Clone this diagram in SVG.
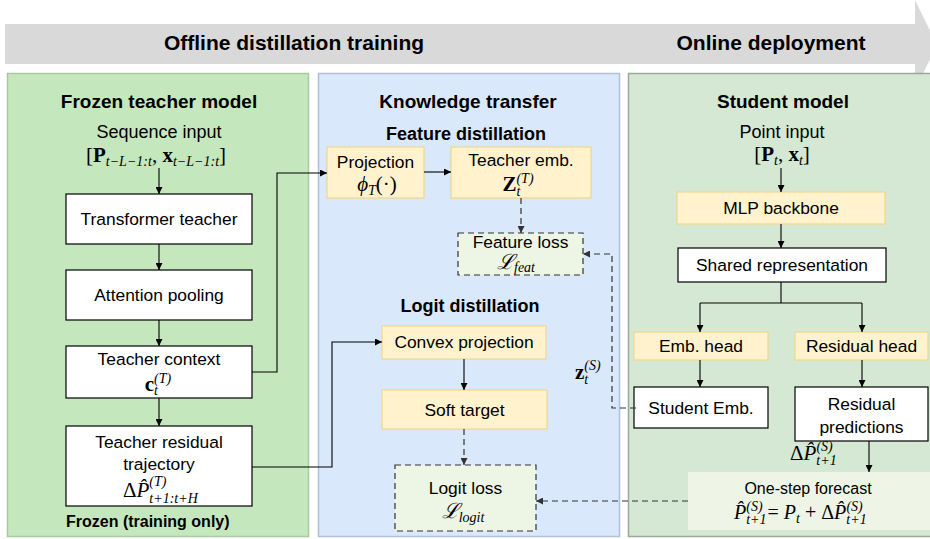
<svg xmlns="http://www.w3.org/2000/svg" width="930" height="539" viewBox="0 0 930 539">
  <style>
    .t { font-family: "Liberation Sans", Arial, sans-serif; font-size: 17.4px; fill: #000; text-anchor: middle; }
    .h { font-family: "Liberation Sans", Arial, sans-serif; font-size: 19px; font-weight: bold; fill: #000; text-anchor: middle; }
    .h2 { font-family: "Liberation Sans", Arial, sans-serif; font-size: 18px; font-weight: bold; fill: #000; text-anchor: middle; }
    .phase { font-family: "Liberation Sans", Arial, sans-serif; font-size: 21px; font-weight: bold; fill: #000; text-anchor: middle; }
    .m { font-family: "Liberation Serif", "DejaVu Serif", serif; font-size: 21px; fill: #000; }
    .b { font-weight: bold; font-style: normal; }
    .i { font-style: italic; }
    .s { font-size: 14px; font-style: italic; }
    .cal { font-family: "DejaVu Serif", serif; font-style: italic; }
    .box { fill: #fff; stroke: #000; stroke-width: 1.2; }
    .ybox { fill: #fff2cc; stroke: #f2d68a; stroke-width: 1.2; }
    .lbox { fill: #edf5e5; stroke: #333; stroke-width: 1.2; stroke-dasharray: 6 4; }
    .ln { fill: none; stroke: #000; stroke-width: 1.1; }
    .dl { fill: none; stroke: #333; stroke-width: 1.2; stroke-dasharray: 6 4; }
  </style>
  <defs>
    <marker id="ah" viewBox="0 0 10 10" refX="10" refY="5" markerWidth="7" markerHeight="7" markerUnits="userSpaceOnUse" orient="auto">
      <path d="M0,0 L10,5 L0,10 z" fill="#000"/>
    </marker>
    <marker id="ahd" viewBox="0 0 10 10" refX="10" refY="5" markerWidth="7" markerHeight="7" markerUnits="userSpaceOnUse" orient="auto">
      <path d="M0,0 L10,5 L0,10 z" fill="#333"/>
    </marker>
  </defs>

  <!-- phase banner -->
  <g id="banner">
    <polygon points="5,24 915,24 915,0 937,45 915,90 915,64 5,64" fill="#d9d9d9"/>
    <text class="phase" x="294" y="50">Offline distillation training</text>
    <text class="phase" x="771" y="50">Online deployment</text>
  </g>

  <!-- panels -->
  <g id="teacher-panel">
    <rect x="7.5" y="73.5" width="301" height="463" fill="#c5e7bd" stroke="#a9c9a1" stroke-width="1.5"/>
    <text class="h" x="159" y="108">Frozen teacher model</text>
    <text class="t" x="159" y="138" style="font-size:18px">Sequence input</text>
    <text class="m" x="156" y="162" text-anchor="middle">[<tspan class="b">P</tspan><tspan class="s" dy="4">t−L−1:t</tspan><tspan dy="-4">, </tspan><tspan class="b">x</tspan><tspan class="s" dy="4">t−L−1:t</tspan><tspan dy="-4">]</tspan></text>
    <text x="66" y="527" style="font-family:'Liberation Sans',Arial,sans-serif;font-size:16px;font-weight:bold">Frozen (training only)</text>
  </g>
  <g id="transfer-panel">
    <rect x="318.5" y="73.5" width="301" height="463" fill="#dae8fc" stroke="#b0c0d8" stroke-width="1.5"/>
    <text class="h" x="468" y="108">Knowledge transfer</text>
    <text class="h2" x="466" y="140">Feature distillation</text>
    <text class="h2" x="470" y="312">Logit distillation</text>
  </g>
  <g id="student-panel">
    <rect x="628.5" y="73.5" width="305" height="463" fill="#d5e8d4" stroke="#9aaa98" stroke-width="1.5"/>
    <text class="h" x="783" y="108">Student model</text>
    <text class="t" x="782" y="138" style="font-size:18px">Point input</text>
    <text class="m" x="782" y="161" text-anchor="middle">[<tspan class="b">P</tspan><tspan class="s" dy="4">t</tspan><tspan dy="-4">, </tspan><tspan class="b">x</tspan><tspan class="s" dy="4">t</tspan><tspan dy="-4">]</tspan></text>
  </g>

  <!-- teacher nodes -->
  <g id="transformer-teacher">
    <rect class="box" x="66" y="194" width="186" height="50"/>
    <text class="t" x="159" y="225">Transformer teacher</text>
  </g>
  <g id="attention-pooling">
    <rect class="box" x="66" y="270" width="186" height="50"/>
    <text class="t" x="159" y="301">Attention pooling</text>
  </g>
  <g id="teacher-context">
    <rect class="box" x="66" y="346" width="186" height="52"/>
    <text class="t" x="159" y="365">Teacher context</text>
    <text class="m" x="158" y="391" text-anchor="middle"><tspan class="b">c</tspan><tspan class="s" dy="4">t</tspan><tspan class="s" dx="-3.9" dy="-12">(T)</tspan></text>
  </g>
  <g id="teacher-residual">
    <rect class="box" x="66" y="426" width="186" height="80"/>
    <text class="t" x="159" y="448">Teacher residual</text>
    <text class="t" x="159" y="470">trajectory</text>
    <text class="m" x="123" y="497">Δ<tspan class="i">P̂</tspan><tspan class="s" dy="6">t+1:t+H</tspan><tspan class="s" dx="-48.5" dy="-17">(T)</tspan></text>
  </g>

  <!-- knowledge transfer nodes -->
  <g id="projection">
    <rect class="ybox" x="327" y="147" width="97" height="51"/>
    <text class="t" x="375.5" y="168">Projection</text>
    <text class="m" x="377" y="191" text-anchor="middle"><tspan class="i">ϕ</tspan><tspan class="s" dy="4">T</tspan><tspan dy="-4">(·)</tspan></text>
  </g>
  <g id="teacher-emb">
    <rect class="ybox" x="451" y="147" width="140" height="51"/>
    <text class="t" x="521" y="166">Teacher emb.</text>
    <text class="m" x="518" y="191" text-anchor="middle"><tspan class="b">Z</tspan><tspan class="s" dy="5">t</tspan><tspan class="s" dx="-3.9" dy="-13">(T)</tspan></text>
  </g>
  <g id="feature-loss">
    <rect class="lbox" x="458" y="233" width="125" height="42"/>
    <text class="t" x="520.5" y="248">Feature loss</text>
    <text class="m" x="516" y="269" text-anchor="middle"><tspan class="cal">ℒ</tspan><tspan class="s" dy="3">feat</tspan></text>
  </g>
  <g id="convex-projection">
    <rect class="ybox" x="382" y="326" width="164" height="33"/>
    <text class="t" x="464" y="348">Convex projection</text>
  </g>
  <g id="soft-target">
    <rect class="ybox" x="382" y="390" width="165" height="39"/>
    <text class="t" x="464.5" y="416">Soft target</text>
  </g>
  <g id="logit-loss">
    <rect class="lbox" x="395" y="465" width="141" height="66"/>
    <text class="t" x="465.5" y="494">Logit loss</text>
    <text class="m" x="463" y="518" text-anchor="middle"><tspan class="cal">ℒ</tspan><tspan class="s" dy="4">logit</tspan></text>
  </g>

  <!-- student nodes -->
  <g id="mlp-backbone">
    <rect class="ybox" x="677" y="192" width="208" height="32"/>
    <text class="t" x="781" y="214">MLP backbone</text>
  </g>
  <g id="shared-representation">
    <rect class="box" x="678" y="248" width="208" height="34"/>
    <text class="t" x="782" y="271">Shared representation</text>
  </g>
  <g id="emb-head">
    <rect class="ybox" x="634" y="332" width="134" height="28"/>
    <text class="t" x="701" y="352">Emb. head</text>
  </g>
  <g id="residual-head">
    <rect class="ybox" x="795" y="332" width="133" height="28"/>
    <text class="t" x="861.5" y="352">Residual head</text>
  </g>
  <g id="student-emb">
    <rect class="box" x="634" y="387" width="134" height="41"/>
    <text class="t" x="701" y="414">Student Emb.</text>
  </g>
  <g id="residual-predictions">
    <rect class="box" x="795" y="387" width="133" height="54"/>
    <text class="t" x="861.5" y="410">Residual</text>
    <text class="t" x="861.5" y="433">predictions</text>
  </g>
  <g id="one-step-forecast">
    <rect x="688" y="472" width="242" height="58" fill="#eef5e6"/>
    <text class="t" x="808" y="494" style="font-size:16px">One-step forecast</text>
    <text class="m" x="734" y="519" style="font-size:20px"><tspan class="i">P̂</tspan><tspan class="s" dy="5">t+1</tspan><tspan class="s" dx="-20.3" dy="-13">(S)</tspan><tspan dy="8"> = </tspan><tspan class="i">P</tspan><tspan class="s" dy="4">t</tspan><tspan dy="-4"> + Δ</tspan><tspan class="i">P̂</tspan><tspan class="s" dy="5">t+1</tspan><tspan class="s" dx="-20.3" dy="-13">(S)</tspan></text>
  </g>

  <!-- connectors -->
  <g id="connectors">
    <path class="ln" d="M159,168 V194" marker-end="url(#ah)"/>
    <path class="ln" d="M159,244 V270" marker-end="url(#ah)"/>
    <path class="ln" d="M159,320 V346" marker-end="url(#ah)"/>
    <path class="ln" d="M159,398 V426" marker-end="url(#ah)"/>
    <path class="ln" d="M252,372 H277 V173 H327" marker-end="url(#ah)"/>
    <path class="ln" d="M424,172 H451" marker-end="url(#ah)"/>
    <path class="dl" d="M521,198 V233" marker-end="url(#ahd)"/>
    <path class="dl" d="M636,408 H612 V254 H583" marker-end="url(#ahd)"/>
    <path class="ln" d="M252,467 H332 V342 H382" marker-end="url(#ah)"/>
    <path class="ln" d="M464,359 V390" marker-end="url(#ah)"/>
    <path class="dl" d="M464,429 V465" marker-end="url(#ahd)"/>
    <path class="dl" d="M688,501 H536" marker-end="url(#ahd)"/>
    <path class="ln" d="M781,168 V192" marker-end="url(#ah)"/>
    <path class="ln" d="M781,224 V248" marker-end="url(#ah)"/>
    <path class="ln" d="M781,282 V303 M700,303 H862"/>
    <path class="ln" d="M700,303 V332" marker-end="url(#ah)"/>
    <path class="ln" d="M862,303 V332" marker-end="url(#ah)"/>
    <path class="ln" d="M700,360 V387" marker-end="url(#ah)"/>
    <path class="ln" d="M862,360 V387" marker-end="url(#ah)"/>
    <path class="ln" d="M869,441 V472" marker-end="url(#ah)"/>
    <!-- connector labels -->
    <text class="m" x="575" y="379"><tspan class="b">z</tspan><tspan class="s" dy="5">t</tspan><tspan class="s" dx="-3.9" dy="-14">(S)</tspan></text>
    <text class="m" x="790" y="460">Δ<tspan class="i">P̂</tspan><tspan class="s" dy="5">t+1</tspan><tspan class="s" dx="-20.3" dy="-14">(S)</tspan></text>
  </g>
</svg>
